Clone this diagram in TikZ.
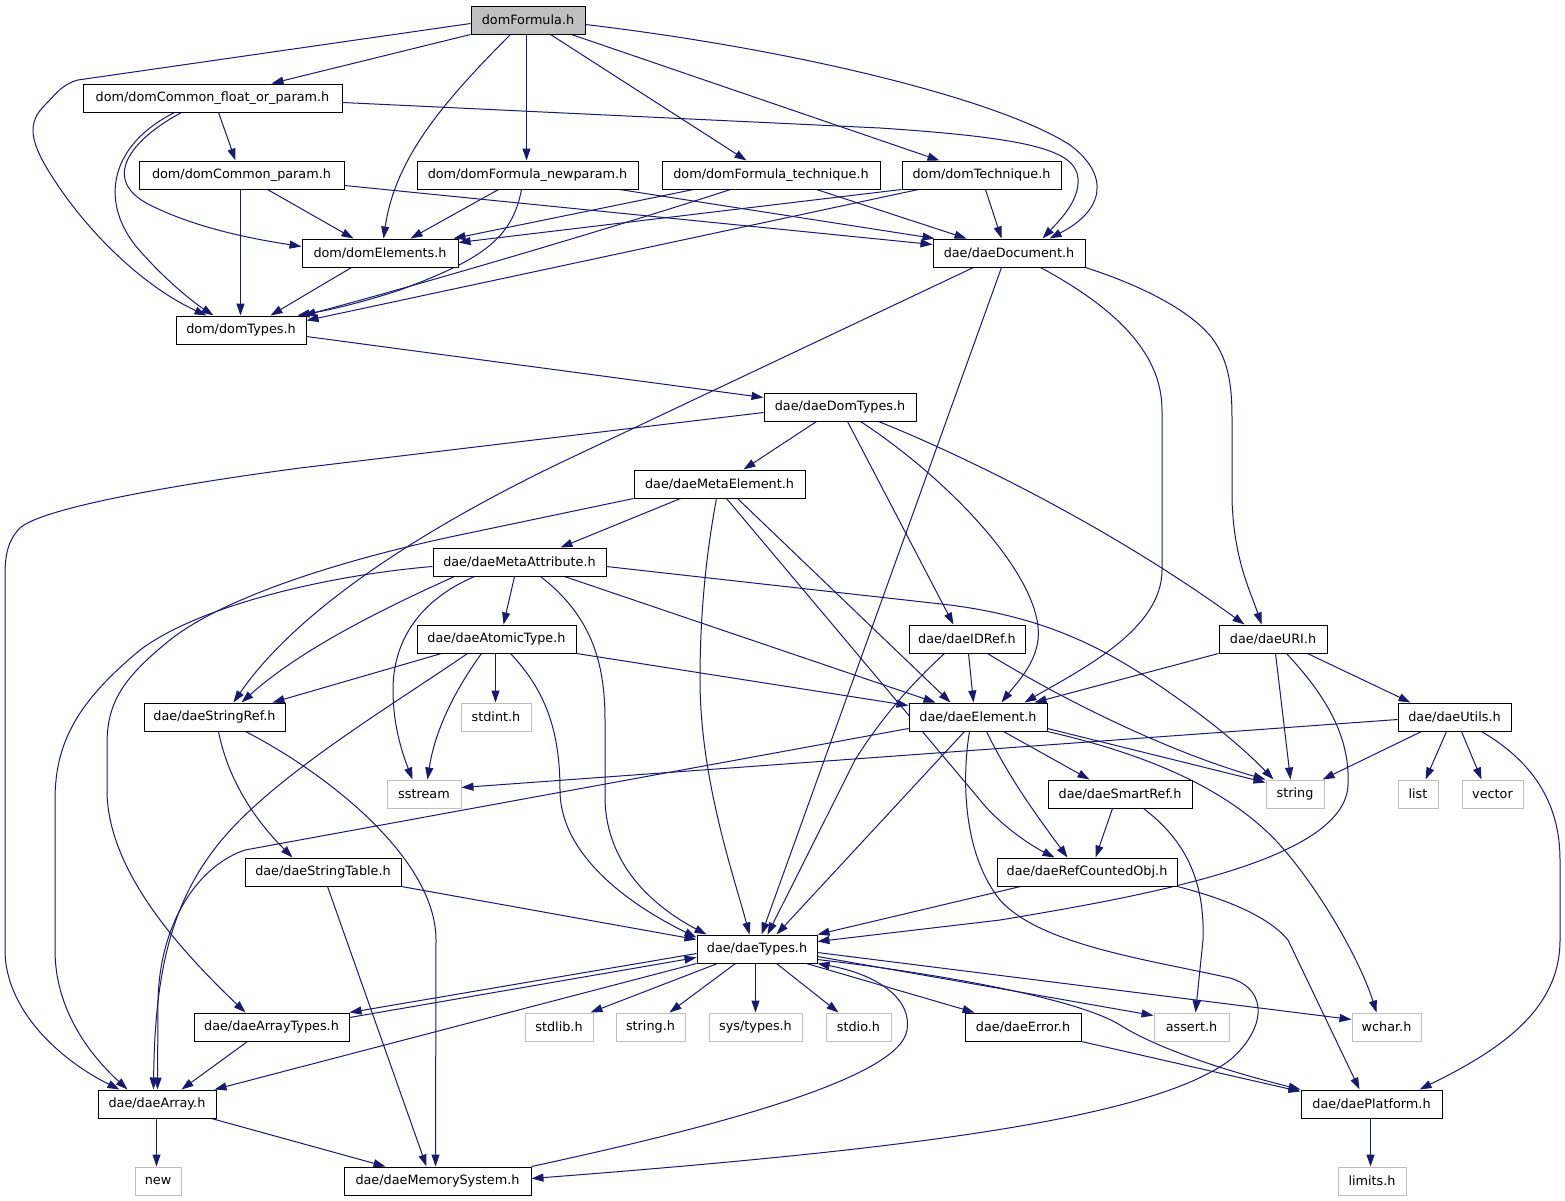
\documentclass[tikz,border=0pt]{standalone}
\usepackage{fontspec}
\setmainfont{DejaVu Sans}
\usetikzlibrary{arrows.meta}
\pgfdeclarelayer{bg}
\pgfsetlayers{bg,main}
\definecolor{edgecol}{HTML}{191970}
\definecolor{sysgray}{HTML}{BFBFBF}
\begin{document}
\begin{tikzpicture}[x=1pt,y=-1pt,
  hdr/.style={draw=black, fill=white, line width=1pt, inner sep=0pt, minimum height=28pt, font=\fontsize{12.8pt}{15pt}\selectfont},
  sys/.style={hdr, draw=sysgray},
  root/.style={hdr, fill=sysgray},
  lnk/.style={draw=edgecol, line width=1pt, -{Triangle[length=12pt,width=8pt]}, fill=none}]
\useasboundingbox (0,0) rectangle (1565,1200);
% nodes
\node[root, minimum width=114pt] (n0) at (528,20) {domFormula.h};
\node[hdr, minimum width=259pt] (n1) at (212.5,98) {dom/domCommon\_float\_or\_param.h};
\node[hdr, minimum width=205pt] (n2) at (241.5,175) {dom/domCommon\_param.h};
\node[hdr, minimum width=221pt] (n3) at (527.5,175) {dom/domFormula\_newparam.h};
\node[hdr, minimum width=218pt] (n4) at (771,175) {dom/domFormula\_technique.h};
\node[hdr, minimum width=159pt] (n5) at (981.5,175) {dom/domTechnique.h};
\node[hdr, minimum width=156pt] (n6) at (380,253) {dom/domElements.h};
\node[hdr, minimum width=152pt] (n7) at (1009,253) {dae/daeDocument.h};
\node[hdr, minimum width=130pt] (n8) at (241,330) {dom/domTypes.h};
\node[hdr, minimum width=152pt] (n9) at (840,407) {dae/daeDomTypes.h};
\node[hdr, minimum width=171pt] (n10) at (719.5,484) {dae/daeMetaElement.h};
\node[hdr, minimum width=173pt] (n11) at (519.5,562) {dae/daeMetaAttribute.h};
\node[hdr, minimum width=159pt] (n12) at (496.5,639) {dae/daeAtomicType.h};
\node[hdr, minimum width=116pt] (n13) at (967,639) {dae/daeIDRef.h};
\node[hdr, minimum width=108pt] (n14) at (1273,639) {dae/daeURI.h};
\node[hdr, minimum width=141pt] (n15) at (214.5,717) {dae/daeStringRef.h};
\node[sys, minimum width=70pt] (n16) at (496,717) {stdint.h};
\node[hdr, minimum width=138pt] (n17) at (978,717) {dae/daeElement.h};
\node[hdr, minimum width=113pt] (n18) at (1454.5,717) {dae/daeUtils.h};
\node[sys, minimum width=74pt] (n19) at (424,794) {sstream};
\node[sys, minimum width=58pt] (n20) at (1295,794) {string};
\node[sys, minimum width=40pt] (n21) at (1418,794) {list};
\node[sys, minimum width=61pt] (n22) at (1492.5,794) {vector};
\node[hdr, minimum width=144pt] (n23) at (1120,794) {dae/daeSmartRef.h};
\node[hdr, minimum width=156pt] (n24) at (323,872) {dae/daeStringTable.h};
\node[hdr, minimum width=180pt] (n25) at (1087,872) {dae/daeRefCountedObj.h};
\node[hdr, minimum width=120pt] (n26) at (757,949) {dae/daeTypes.h};
\node[hdr, minimum width=155pt] (n27) at (271.5,1027) {dae/daeArrayTypes.h};
\node[sys, minimum width=68pt] (n28) at (559,1027) {stdlib.h};
\node[sys, minimum width=69pt] (n29) at (650.5,1027) {string.h};
\node[sys, minimum width=93pt] (n30) at (755.5,1027) {sys/types.h};
\node[sys, minimum width=65pt] (n31) at (858.5,1027) {stdio.h};
\node[hdr, minimum width=116pt] (n32) at (1023,1027) {dae/daeError.h};
\node[sys, minimum width=75pt] (n33) at (1191.5,1027) {assert.h};
\node[sys, minimum width=69pt] (n34) at (1386.5,1027) {wchar.h};
\node[hdr, minimum width=118pt] (n35) at (157,1104) {dae/daeArray.h};
\node[hdr, minimum width=141pt] (n36) at (1371.5,1104) {dae/daePlatform.h};
\node[sys, minimum width=46pt] (n37) at (158,1181) {new};
\node[hdr, minimum width=187pt] (n38) at (437.5,1181) {dae/daeMemorySystem.h};
\node[sys, minimum width=68pt] (n39) at (1372,1181) {limits.h};
% edges
\begin{pgfonlayer}{bg}
\fill[white] (0,0) rectangle (1565,1200);
\draw[lnk] ([yshift=-18pt]n0.north west) -- (78,80) .. controls (62,84) and (55,95) .. (45,105) .. controls (30,120) and (28,135) .. (45,165) .. controls (80,225) and (140,285) .. ([xshift=31pt]n8.north west);
\draw[lnk] (n0.south west) -- ([xshift=189pt]n1.north west);
\draw[lnk] ([xshift=40pt]n0.south west) .. controls (440,105) and (395,160) .. ([xshift=82pt]n6.north west);
\draw[lnk] ([xshift=56pt]n0.south west) -- ([xshift=110pt]n3.north west);
\draw[lnk] ([xshift=80pt]n0.south west) -- ([xshift=85pt]n4.north west);
\draw[lnk] ([xshift=101pt]n0.south west) -- ([xshift=38pt]n5.north west);
\draw[lnk] ([yshift=-19pt]n0.north east) .. controls (800,50) and (1000,100) .. (1070,145) .. controls (1110,175) and (1105,210) .. ([xshift=117pt]n7.north west);
\draw[lnk] ([xshift=136pt]n1.south west) -- ([xshift=97pt]n2.north west);
\draw[lnk] ([xshift=99pt]n1.south west) .. controls (130,140) and (100,180) .. (150,205) .. controls (200,230) and (260,240) .. ([yshift=-8pt]n6.north west);
\draw[lnk] ([xshift=92pt]n1.south west) .. controls (110,145) and (100,200) .. (135,245) .. controls (160,275) and (190,300) .. ([xshift=38pt]n8.north west);
\draw[lnk] ([yshift=-19pt]n1.north east) -- (880,128) .. controls (1030,138) and (1075,150) .. (1078,178) .. controls (1080,200) and (1060,220) .. ([xshift=110pt]n7.north west);
\draw[lnk] ([xshift=102pt]n2.south west) -- ([xshift=65pt]n8.north west);
\draw[lnk] ([xshift=129pt]n2.south west) -- ([xshift=52pt]n6.north west);
\draw[lnk] ([yshift=-25pt]n2.north east) -- ([yshift=-6pt]n7.north west);
\draw[lnk] ([xshift=82pt]n3.south west) -- ([xshift=109pt]n6.north west);
\draw[lnk] ([xshift=105pt]n3.south west) .. controls (512,240) and (480,260) .. (400,290) .. controls (360,303) and (330,310) .. ([xshift=122pt]n8.north west);
\draw[lnk] ([xshift=203pt]n3.south west) -- ([xshift=2pt]n7.north west);
\draw[lnk] ([xshift=32pt]n4.south west) -- ([xshift=152pt]n6.north west);
\draw[lnk] ([xshift=69pt]n4.south west) .. controls (600,232) and (400,290) .. ([xshift=128pt]n8.north west);
\draw[lnk] ([xshift=155pt]n4.south west) -- ([xshift=34pt]n7.north west);
\draw[lnk] (n5.south west) -- ([yshift=-4pt]n6.north east);
\draw[lnk] ([xshift=17pt]n5.south west) -- ([yshift=-5pt]n8.north east);
\draw[lnk] ([xshift=84pt]n5.south west) -- ([xshift=69pt]n7.north west);
\draw[lnk] ([xshift=50pt]n6.south west) -- ([xshift=95pt]n8.north west);
\draw[lnk] ([yshift=-21pt]n8.north east) -- ([yshift=-5pt]n9.north west);
\draw[lnk] ([xshift=41pt]n7.south west) -- (560,463) .. controls (400,540) and (290,620) .. ([xshift=90pt]n15.north west);
\draw[lnk] ([xshift=69pt]n7.south west) -- ([xshift=65pt]n26.north west);
\draw[lnk] ([xshift=108pt]n7.south west) .. controls (1110,305) and (1162,350) .. (1162,410) -- (1162,570) .. controls (1162,630) and (1080,670) .. ([xshift=116pt]n17.north west);
\draw[lnk] (n7.south east) .. controls (1140,285) and (1190,310) .. (1212,338) .. controls (1230,362) and (1232,390) .. (1232,420) -- (1232,500) .. controls (1234,560) and (1250,590) .. ([xshift=43pt]n14.north west);
\draw[lnk] ([yshift=-20pt]n9.north west) -- (300,468) .. controls (150,488) and (40,510) .. (20,528) .. controls (8,540) and (5,555) .. (5,575) -- (5,950) .. controls (5,1010) and (60,1060) .. ([xshift=22pt]n35.north west);
\draw[lnk] ([xshift=53pt]n9.south west) -- ([xshift=110pt]n10.north west);
\draw[lnk] ([xshift=84pt]n9.south west) -- ([xshift=45pt]n13.north west);
\draw[lnk] ([xshift=97pt]n9.south west) .. controls (950,480) and (1045,580) .. (1038,640) .. controls (1035,665) and (1015,685) .. ([xshift=93pt]n17.north west);
\draw[lnk] ([xshift=115pt]n9.south west) .. controls (950,450) and (1100,520) .. ([xshift=26pt]n14.north west);
\draw[lnk] (n10.south west) -- (450,537) .. controls (330,563) and (220,600) .. (170,640) .. controls (120,680) and (107,705) .. (107,745) -- (107,790) .. controls (107,870) and (180,950) .. ([xshift=52pt]n27.north west);
\draw[lnk] ([xshift=47pt]n10.south west) -- ([xshift=128pt]n11.north west);
\draw[lnk] ([xshift=83pt]n10.south west) .. controls (705,560) and (700,620) .. (700,680) .. controls (700,780) and (735,880) .. ([xshift=53pt]n26.north west);
\draw[lnk] ([xshift=93pt]n10.south west) -- (980,800) .. controls (1000,825) and (1030,845) .. ([xshift=58pt]n25.north west);
\draw[lnk] ([xshift=104pt]n10.south west) -- ([xshift=42pt]n17.north west);
\draw[lnk] ([yshift=-19pt]n11.north west) .. controls (330,575) and (200,605) .. (140,650) .. controls (80,700) and (55,740) .. (55,800) -- (55,950) .. controls (55,1010) and (90,1055) .. ([xshift=30pt]n35.north west);
\draw[lnk] ([xshift=22pt]n11.south west) .. controls (380,610) and (300,650) .. ([xshift=98pt]n15.north west);
\draw[lnk] ([xshift=42pt]n11.south west) .. controls (420,600) and (393,640) .. (393,690) .. controls (393,730) and (405,760) .. ([xshift=26pt]n19.north west);
\draw[lnk] ([xshift=82pt]n11.south west) -- ([xshift=87pt]n12.north west);
\draw[lnk] ([xshift=108pt]n11.south west) .. controls (590,615) and (605,660) .. (605,720) -- (605,800) .. controls (607,870) and (660,910) .. ([xshift=10pt]n26.north west);
\draw[lnk] ([xshift=132pt]n11.south west) -- ([xshift=27pt]n17.north west);
\draw[lnk] ([yshift=-19pt]n11.north east) -- (950,605) .. controls (1050,618) and (1110,650) .. (1180,700) .. controls (1220,728) and (1250,755) .. ([xshift=8pt]n20.north west);
\draw[lnk] ([xshift=94pt]n12.south west) .. controls (545,690) and (560,730) .. (560,790) .. controls (560,860) and (640,910) .. ([yshift=-3pt]n26.north west);
\draw[lnk] ([xshift=25pt]n12.south west) -- ([xshift=129pt]n15.north west);
\draw[lnk] ([xshift=51pt]n12.south west) .. controls (400,700) and (300,760) .. (240,820) .. controls (175,885) and (155,960) .. ([xshift=56pt]n35.north west);
\draw[lnk] ([xshift=65pt]n12.south west) .. controls (455,690) and (435,730) .. ([xshift=41pt]n19.north west);
\draw[lnk] ([xshift=79pt]n12.south west) -- ([xshift=35pt]n16.north west);
\draw[lnk] (n12.south east) -- ([yshift=-3pt]n17.north west);
\draw[lnk] ([xshift=60pt]n13.south west) -- ([xshift=65pt]n17.north west);
\draw[lnk] ([xshift=36pt]n13.south west) .. controls (910,685) and (880,720) .. (855,760) -- ([xshift=71pt]n26.north west);
\draw[lnk] ([xshift=79pt]n13.south west) .. controls (1080,710) and (1180,755) .. (n20.north west);
\draw[lnk] (n14.south west) -- ([xshift=126pt]n17.north west);
\draw[lnk] ([xshift=57pt]n14.south west) -- ([xshift=25pt]n20.north west);
\draw[lnk] ([xshift=68pt]n14.south west) .. controls (1330,700) and (1350,740) .. (1348,785) .. controls (1345,860) and (1150,895) .. (1000,920) -- ([yshift=-7pt]n26.north east);
\draw[lnk] ([xshift=89pt]n14.south west) -- ([xshift=13pt]n18.north west);
\draw[lnk] ([yshift=-26pt]n17.north west) -- (245,850) .. controls (200,865) and (160,920) .. (158,1000) -- ([xshift=60pt]n35.north west);
\draw[lnk] ([xshift=56pt]n17.south west) -- ([xshift=80pt]n26.north west);
\draw[lnk] ([yshift=-26pt]n17.north east) -- ([yshift=-3pt]n20.north west);
\draw[lnk] (n17.south east) .. controls (1150,755) and (1230,790) .. (1280,845) .. controls (1320,890) and (1360,960) .. ([xshift=25pt]n34.north west);
\draw[lnk] ([xshift=61pt]n17.south west) .. controls (963,770) and (960,850) .. (1000,900) .. controls (1040,945) and (1150,960) .. (1230,978) .. controls (1270,990) and (1265,1030) .. (1230,1060) .. controls (1150,1120) and (900,1150) .. ([yshift=-12pt]n38.north east);
\draw[lnk] ([xshift=78pt]n17.south west) .. controls (1010,780) and (1040,820) .. ([xshift=71pt]n25.north west);
\draw[lnk] ([xshift=95pt]n17.south west) -- ([xshift=42pt]n23.north west);
\draw[lnk] ([yshift=-17pt]n18.north west) -- ([yshift=-8pt]n19.north east);
\draw[lnk] ([xshift=24pt]n18.south west) -- ([xshift=-2pt]n20.north east);
\draw[lnk] ([xshift=49pt]n18.south west) -- ([xshift=28pt]n21.north west);
\draw[lnk] ([xshift=64pt]n18.south west) -- ([xshift=20pt]n22.north west);
\draw[lnk] ([xshift=84pt]n18.south west) .. controls (1530,760) and (1560,800) .. (1560,860) -- (1560,940) .. controls (1560,1010) and (1500,1050) .. ([xshift=119pt]n36.north west);
\draw[lnk] ([xshift=65pt]n23.south west) -- ([xshift=99pt]n25.north west);
\draw[lnk] ([xshift=96pt]n23.south west) .. controls (1185,840) and (1205,880) .. (1203,940) -- ([xshift=42pt]n33.north west);
\draw[lnk] ([xshift=24pt]n25.south west) -- (n26.north east);
\draw[lnk] (n25.south east) .. controls (1230,900) and (1270,918) .. (1288,940) -- ([xshift=59pt]n36.north west);
\draw[lnk] (n24.south east) -- ([yshift=-5pt]n26.north west);
\draw[lnk] ([xshift=83pt]n24.south west) -- ([xshift=83pt]n38.north west);
\draw[lnk] ([xshift=75pt]n15.south west) .. controls (228,780) and (255,820) .. ([xshift=48pt]n24.north west);
\draw[lnk] ([xshift=102pt]n15.south west) .. controls (330,775) and (436,860) .. (436,940) -- ([xshift=92pt]n38.north west);
\draw[lnk] ([yshift=-19pt]n26.north west) -- (n27.north east);
\draw[lnk] ([yshift=-5pt]n27.north east) -- ([yshift=-23pt]n26.north west);
\draw[lnk] (n26.south west) -- ([xshift=-2pt]n35.north east);
\draw[lnk] ([xshift=21pt]n26.south west) -- ([xshift=-3pt]n28.north east);
\draw[lnk] ([xshift=39pt]n26.south west) -- ([xshift=54pt]n29.north west);
\draw[lnk] ([xshift=59pt]n26.south west) -- ([xshift=47pt]n30.north west);
\draw[lnk] ([xshift=80pt]n26.south west) -- ([xshift=13pt]n31.north west);
\draw[lnk] ([xshift=110pt]n26.south west) -- ([xshift=10pt]n32.north west);
\draw[lnk] ([yshift=-22pt]n26.north east) -- ([yshift=-3pt]n33.north west);
\draw[lnk] ([yshift=-18pt]n26.north east) -- ([yshift=-7pt]n34.north west);
\draw[lnk] ([yshift=-25pt]n26.north east) .. controls (950,975) and (1080,1000) .. (1120,1025) .. controls (1160,1050) and (1230,1072) .. (n36.north west);
\draw[lnk] (n32.south east) -- ([yshift=-2pt]n36.north west);
\draw[lnk] ([xshift=70pt]n36.south west) -- ([xshift=33pt]n39.north west);
\draw[lnk] (n38.north east) .. controls (700,1130) and (900,1080) .. (907,1030) .. controls (912,1000) and (880,975) .. (n26.south east);
\draw[lnk] ([xshift=54pt]n27.south west) -- ([xshift=84pt]n35.north west);
\draw[lnk] ([xshift=59pt]n35.south west) -- ([xshift=22pt]n37.north west);
\draw[lnk] ([xshift=114pt]n35.south west) -- ([xshift=42pt]n38.north west);
\end{pgfonlayer}
\end{tikzpicture}
\end{document}
